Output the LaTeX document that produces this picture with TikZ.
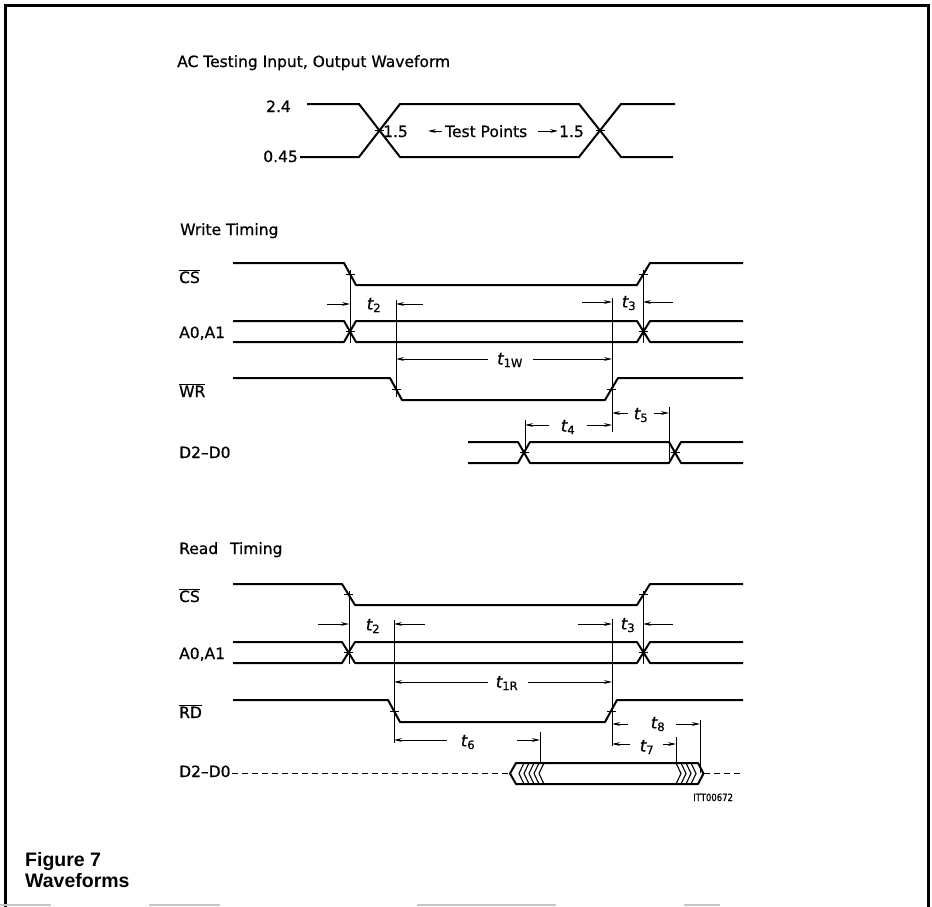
\documentclass[tikz,border=0pt]{standalone}
\usepackage{fontspec}
\setmainfont{DejaVu Sans}[FakeBold=0.7]
\newfontfamily\capfont{Liberation Sans}
\usetikzlibrary{arrows.meta}
\newcommand{\ovl}[1]{\ensuremath{\overline{\mbox{#1}}}}
\newcommand{\tsub}[1]{{\itshape t}\textsubscript{\upshape #1}}
\begin{document}
\begin{tikzpicture}[x=1pt,y=-1pt,
  wave/.style={line width=2pt,line join=round},
  dimln/.style={line width=0.8pt},
  arr/.style={line width=0.8pt,-{Stealth[length=8pt,width=3.8pt]}},
  lab/.style={font=\fontsize{15.5}{18}\selectfont,inner sep=0pt,anchor=base west},
  tl/.style={font=\fontsize{16.5}{18}\selectfont,inner sep=0pt},
  tickmark/.style={line width=0.8pt},
  hatch/.style={line width=1.1pt}]
\useasboundingbox (0,0) rectangle (932,907);
% frame
\draw[line width=3pt] (5,907) -- (5,6) -- (928,6) -- (928,907);
\draw[gray!45,line width=1.5pt] (0,905)--(51,905) (149,905)--(220,905) (417,905)--(556,905) (684,905)--(720,905);

% ---------- AC testing ----------
\node[lab] (actitle) at (177,67) {AC Testing Input, Output Waveform};
\node[lab,anchor=base east] (v24) at (291,112) {2.4};
\node[lab,anchor=base east] (v045) at (298,162) {0.45};
\draw[wave] (307,104) -- (359,104) -- (400,157) -- (579,157) -- (621,104) -- (675,104);
\draw[wave] (300,157) -- (359,157) -- (400,104) -- (579,104) -- (621,157) -- (673,157);
\draw[tickmark] (375,130.5) -- (384,130.5) (595.5,130.5) -- (604.5,130.5);
\node[lab] (tpa) at (383,137) {1.5};
\coordinate (tpla) at (442,131);
\coordinate (tplb) at (428,131);
\draw[arr] (tpla) -- (tplb);
\node[lab] (tp) at (445,137) {Test Points};
\coordinate (tpra) at (538,131);
\coordinate (tprb) at (558,131);
\draw[arr] (tpra) -- (tprb);
\node[lab] (tpb) at (559,137) {1.5};

% ---------- Write timing ----------
\node[lab] (wt) at (180,235) {Write Timing};
\node[lab] (wcs) at (179,283) {\ovl{CS}};
\node[lab] (wa) at (179,338) {A0,A1};
\node[lab] (wwr) at (179,397) {\ovl{WR}};
\node[lab] (wd) at (179,458) {D2\textendash D0};

\draw[wave] (233,263) -- (344,263) -- (356,285) -- (637,285) -- (650,263) -- (743,263);
\draw[wave] (233,321) -- (344,321) -- (356,342) -- (637,342) -- (650,321) -- (743,321);
\draw[wave] (233,342) -- (344,342) -- (356,321) -- (637,321) -- (650,342) -- (743,342);
\draw[wave] (233,378) -- (390,378) -- (402,400) -- (605,400) -- (618,378) -- (743,378);
\draw[wave] (468,442) -- (518,442) -- (530,463) -- (669,463) -- (681,442) -- (743,442);
\draw[wave] (468,463) -- (518,463) -- (530,442) -- (669,442) -- (681,463) -- (743,463);
\draw[tickmark] (345.5,274) -- (354.5,274) (639,274) -- (648,274)
  (345.5,331.5) -- (354.5,331.5) (639,331.5) -- (648,331.5)
  (391.5,389) -- (400.5,389) (607,389) -- (616,389)
  (519.5,452.5) -- (528.5,452.5) (670.5,452.5) -- (679.5,452.5);
% verticals
\draw[dimln] (350,270) -- (350,343);
\draw[dimln] (643,270) -- (643,343);
\draw[dimln] (396,300) -- (396,397);
\draw[dimln] (612,298) -- (612,432);
\draw[dimln] (525,420) -- (525,452);
\draw[dimln] (669,407) -- (669,460);
% t2
\draw[arr] (327,304) -- (350,304);
\node[tl] (wt2) at (374,305) {\tsub{2}};
\draw[arr] (423,304) -- (396,304);
% t1W
\draw[arr] (488,359) -- (396,359);
\node[tl] (wt1) at (510,360) {\tsub{1W}};
\draw[arr] (533,359) -- (612,359);
% t3
\draw[arr] (582,302) -- (612,302);
\node[tl] (wt3) at (629,303) {\tsub{3}};
\draw[arr] (673,302) -- (643,302);
% t4
\draw[arr] (549,425) -- (525,425);
\node[tl] (wt4) at (568,427) {\tsub{4}};
\draw[arr] (587,425) -- (612,425);
% t5
\draw[arr] (628,413) -- (612,413);
\node[tl] (wt5) at (641,415) {\tsub{5}};
\draw[arr] (654,413) -- (669,413);

% ---------- Read timing ----------
\node[lab] (rt) at (179,554) {Read\hspace{7pt} Timing};
\node[lab] (rcs) at (179,602) {\ovl{CS}};
\node[lab] (ra) at (179,659) {A0,A1};
\node[lab] (rrd) at (179,718) {\ovl{RD}};
\node[lab] (rd) at (179,777) {D2\textendash D0};

\draw[wave] (233,584) -- (342,584) -- (355,605) -- (637,605) -- (650,584) -- (743,584);
\draw[wave] (233,642) -- (342,642) -- (355,663) -- (637,663) -- (650,642) -- (743,642);
\draw[wave] (233,663) -- (342,663) -- (355,642) -- (637,642) -- (650,663) -- (743,663);
\draw[wave] (233,700) -- (388,700) -- (400,722) -- (605,722) -- (617,700) -- (743,700);
\draw[tickmark] (344,594.5) -- (353,594.5) (639,594.5) -- (648,594.5)
  (344,652.5) -- (353,652.5) (639,652.5) -- (648,652.5)
  (389.5,711) -- (398.5,711) (606.5,711) -- (615.5,711);
% verticals
\draw[dimln] (349,591) -- (349,664);
\draw[dimln] (643,591) -- (643,664);
\draw[dimln] (394,620) -- (394,743);
\draw[dimln] (612,619) -- (612,746);
\draw[dimln] (540,732) -- (540,763);
\draw[dimln] (700,720) -- (700,773);
\draw[dimln] (676,737) -- (676,763);
% t2
\draw[arr] (318,624) -- (349,624);
\node[tl] (rt2) at (373,626) {\tsub{2}};
\draw[arr] (425,624) -- (394,624);
% t1R
\draw[arr] (488,682) -- (394,682);
\node[tl] (rt1) at (507,683) {\tsub{1R}};
\draw[arr] (528,682) -- (612,682);
% t3
\draw[arr] (578,624) -- (612,624);
\node[tl] (rt3) at (628,625) {\tsub{3}};
\draw[arr] (673,624) -- (643,624);
% t6
\draw[arr] (447,740) -- (394,740);
\node[tl] (rt6) at (468,742) {\tsub{6}};
\draw[arr] (517,740) -- (540,740);
% t8
\draw[arr] (628,724) -- (612,724);
\node[tl] (rt8) at (658,724) {\tsub{8}};
\draw[arr] (676,724) -- (700,724);
% t7
\draw[arr] (630,744) -- (612,744);
\node[tl] (rt7) at (647,747) {\tsub{7}};
\draw[arr] (663,744) -- (676,744);
% D2-D0 bus
\draw[line width=1.4pt,dash pattern=on 6pt off 4pt] (232,773.5) -- (510,773.5);
\draw[line width=1.4pt,dash pattern=on 6pt off 4pt] (704,773.5) -- (743,773.5);
\draw[wave] (516,763) -- (698,763) -- (703.5,773.5) -- (698,784) -- (516,784) -- (510,773.5) -- cycle;
\foreach \v in {519,524,529,534,539}
  \draw[hatch] (\v+5,763) -- (\v,773.5) -- (\v+5,784);
\foreach \v in {681,686,691,696}
  \draw[hatch] (\v-5,763) -- (\v,773.5) -- (\v-5,784);
\node[anchor=base west,inner sep=0pt,font=\fontsize{10}{12}\selectfont] (itt) at (693,801) {\scalebox{0.85}[1]{ITT00672}};

% caption
\node[anchor=base west,inner sep=0pt,font=\capfont\bfseries\fontsize{19.5}{21}\selectfont] (fig) at (25,866) {Figure 7};
\node[anchor=base west,inner sep=0pt,font=\capfont\bfseries\fontsize{19.5}{21}\selectfont] (wf) at (25,887) {Waveforms};
\end{tikzpicture}
\end{document}
